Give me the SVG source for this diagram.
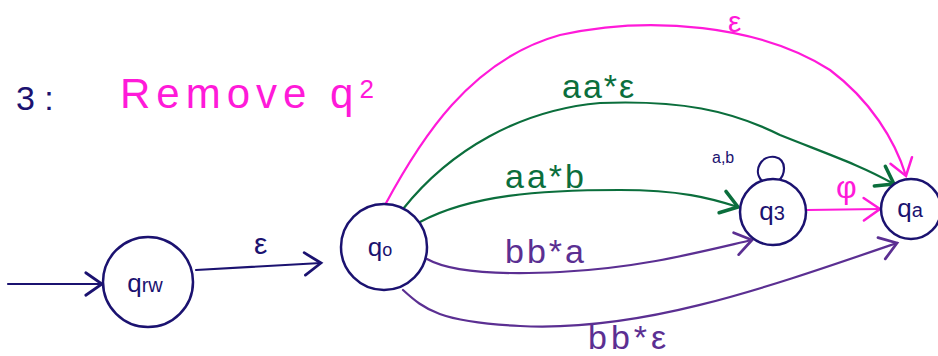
<svg xmlns="http://www.w3.org/2000/svg" width="938" height="356" viewBox="0 0 938 356">
<style>
.bg{fill:#fff}
.node{fill:#fff;stroke:#1b1270;stroke-width:2.5}
.nl{font-family:"Liberation Sans",Arial,sans-serif;fill:#1b1270;font-size:26px;text-anchor:middle}
.e{fill:none;stroke-width:2.2;stroke-linecap:round}
.navy{stroke:#1b1270}
.pink{stroke:#ff1ad9}
.green{stroke:#0b6e3c}
.purple{stroke:#5b2f92}
.t{font-family:"Liberation Sans",Arial,sans-serif}
.tn{fill:#1b1270}.tp{fill:#ff1ad9}.tg{fill:#0b6e3c}.tu{fill:#5b2f92}
</style>
<defs>
<marker id="mNavy" markerUnits="userSpaceOnUse" markerWidth="30" markerHeight="30" viewBox="-16 -12 20 24" refX="0" refY="0" orient="auto"><path d="M-13,-9 L0,0 L-13,9" fill="none" stroke="#1b1270" stroke-width="2.2" stroke-linecap="round"/></marker>
<marker id="mPink" markerUnits="userSpaceOnUse" markerWidth="30" markerHeight="30" viewBox="-16 -12 20 24" refX="0" refY="0" orient="auto"><path d="M-13,-9 L0,0 L-13,9" fill="none" stroke="#ff1ad9" stroke-width="2" stroke-linecap="round"/></marker>
<marker id="mGreen" markerUnits="userSpaceOnUse" markerWidth="30" markerHeight="30" viewBox="-16 -12 20 24" refX="0" refY="0" orient="auto"><path d="M-13,-9 L0,0 L-13,9" fill="none" stroke="#0b6e3c" stroke-width="2.8" stroke-linecap="round"/></marker>
<marker id="mPurple" markerUnits="userSpaceOnUse" markerWidth="30" markerHeight="30" viewBox="-16 -12 20 24" refX="0" refY="0" orient="auto"><path d="M-13,-9 L0,0 L-13,9" fill="none" stroke="#5b2f92" stroke-width="2.2" stroke-linecap="round"/></marker>
</defs>
<rect class="bg" x="0" y="0" width="938" height="356"/>

<g id="title">
<text class="t tn" x="16" y="110" font-size="34">3 :</text>
<text class="t tp" x="120" y="108" font-size="42" letter-spacing="6">Remove q<tspan font-size="26" dy="-10">2</tspan></text>
</g>

<g id="connectors">
<path class="e navy" d="M8,284 L102,284" marker-end="url(#mNavy)"/>
<path class="e navy" d="M196,270 L321,263" marker-end="url(#mNavy)"/>
<text class="t tn" x="254" y="254" font-size="30">ε</text>

<path class="e pink" d="M385,205 C420,140 470,60 560,35 C650,15 760,25 830,70 C870,100 895,140 906,176" marker-end="url(#mPink)"/>
<text class="t tp" x="728" y="32" font-size="30">ε</text>

<path class="e green" d="M403,209 C450,150 520,110 600,103 C680,100 730,110 780,135 C830,155 860,165 894,184" marker-end="url(#mGreen)"/>
<text class="t tg" x="562" y="98" font-size="34" letter-spacing="2">aa*ε</text>

<path class="e green" d="M420,222 C470,195 540,190 620,190 C680,190 710,198 738,207" marker-end="url(#mGreen)"/>
<text class="t tg" x="505" y="188" font-size="34" letter-spacing="3">aa*b</text>

<path class="e purple" d="M427,259 C450,272 500,275 560,272 C640,268 700,252 752,240" marker-end="url(#mPurple)"/>
<text class="t tu" x="505" y="263" font-size="34" letter-spacing="3">bb*a</text>

<path class="e purple" d="M403,290 C425,310 440,322 520,326 C640,332 760,290 897,243" marker-end="url(#mPurple)"/>
<text class="t tu" x="588" y="349" font-size="34" letter-spacing="4">bb*ε</text>

<path class="e pink" d="M807,210 L880,209" marker-end="url(#mPink)"/>
<text class="t tp" x="836" y="198" font-size="32">φ</text>

<path class="e navy" d="M762,181 C752,170 762,155 775,157 C788,160 785,176 778,181"/>
<text class="t tn" x="712" y="163" font-size="16">a,b</text>
</g>

<g id="q_rw">
<circle class="node" cx="148" cy="282" r="45"/>
<text class="nl" x="145" y="292">q<tspan font-size="20">rw</tspan></text>
</g>
<g id="q0">
<circle class="node" cx="384" cy="247" r="43"/>
<text class="nl" x="380" y="256">q<tspan font-size="18">o</tspan></text>
</g>
<g id="q3">
<circle class="node" cx="773" cy="212" r="33"/>
<text class="nl" x="772" y="220">q<tspan font-size="20">3</tspan></text>
</g>
<g id="qa">
<circle class="node" cx="911" cy="209" r="30"/>
<text class="nl" x="910" y="217">q<tspan font-size="20">a</tspan></text>
</g>
</svg>
